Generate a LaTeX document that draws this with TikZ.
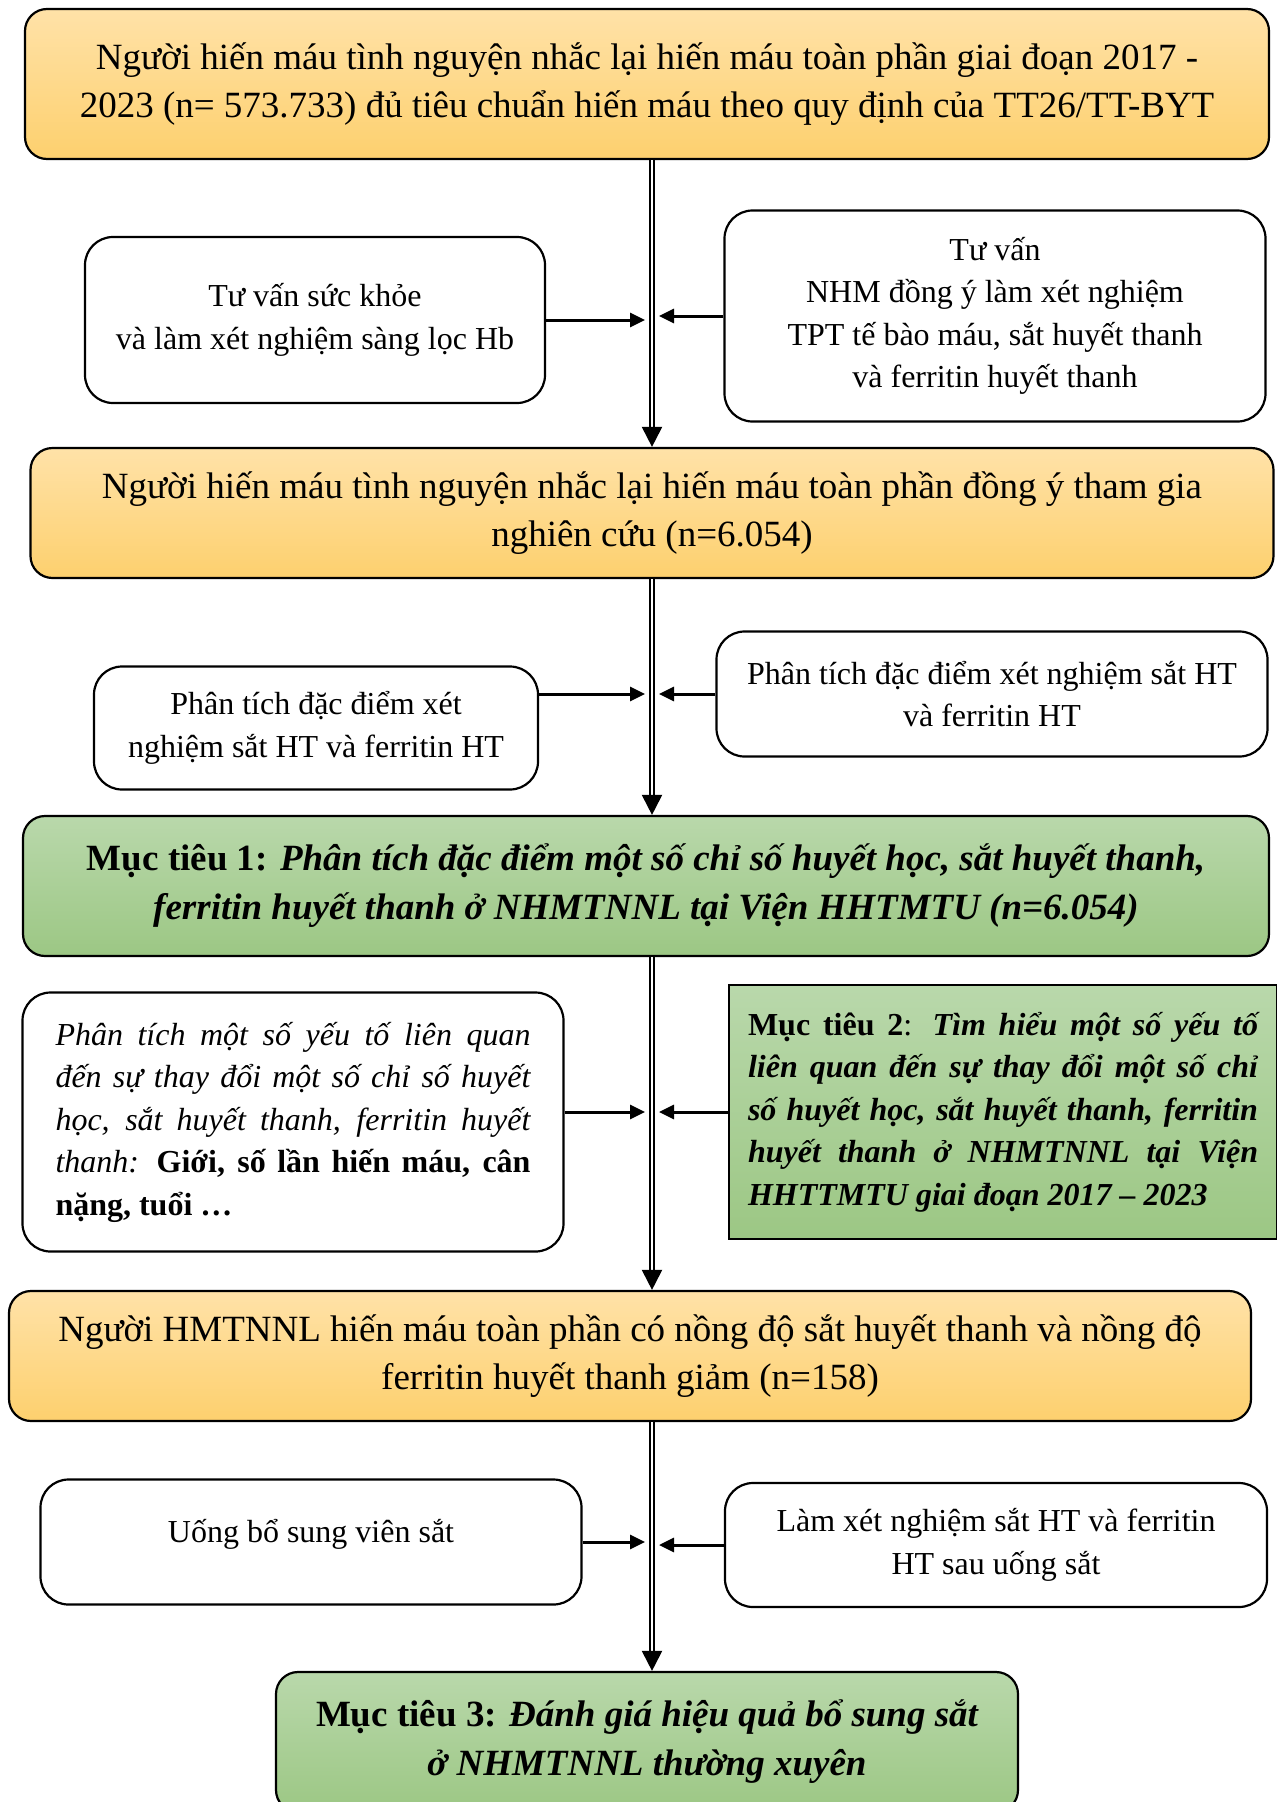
\documentclass[tikz,border=0pt]{standalone}
\usepackage{fontspec}
\setmainfont{Liberation Serif}
\usetikzlibrary{arrows.meta}
\definecolor{orangetop}{HTML}{FFE2A8}
\definecolor{orangebot}{HTML}{FDD06E}
\definecolor{greentop}{HTML}{B9D8AB}
\definecolor{greenbot}{HTML}{9CC784}

\begin{document}
\begin{tikzpicture}[x=1pt,y=-1pt,
    box/.style={draw, line width=2.2pt, align=center, inner sep=0pt},
    orangebox/.style={box, rounded corners=22pt, top color=orangetop, bottom color=orangebot,
      font=\fontsize{37}{48}\selectfont},
    greenbox/.style={box, rounded corners=22pt, top color=greentop, bottom color=greenbot,
      font=\fontsize{37}{49}\selectfont\bfseries},
    whitebox/.style={box, rounded corners=28pt, fill=white, font=\fontsize{32}{42.5}\selectfont},
    mainarrow/.style={draw, double, double distance=2.5pt, line width=2pt,
      -{Triangle[length=20pt,width=20pt]}},
    sidearrow/.style={line width=3pt, -{Triangle[length=15pt,width=14pt]}, shorten >=7pt}]
    \useasboundingbox (0,0) rectangle (1277,1802);
    \coordinate (spine) at (652,0);
    % main column
    \node[orangebox, minimum width=1244, minimum height=150] (donor) at (647,84)
      {Người hiến máu tình nguyện nhắc lại hiến máu toàn phần giai đoạn 2017 -\\
       2023 (n= 573.733) đủ tiêu chuẩn hiến máu theo quy định của TT26/TT-BYT};
    \node[orangebox, minimum width=1243, minimum height=130] (agree) at (652,513)
      {Người hiến máu tình nguyện nhắc lại hiến máu toàn phần đồng ý tham gia\\
       nghiên cứu (n=6.054)};
    \node[greenbox, minimum width=1246, minimum height=140] (goal1) at (646,886)
      {Mục tiêu 1: \itshape Phân tích đặc điểm một số chỉ số huyết học, sắt huyết thanh,\\
       \itshape ferritin huyết thanh ở NHMTNNL tại Viện HHTMTU (n=6.054)};
    \node[orangebox, minimum width=1242, minimum height=130] (low) at (630,1356)
      {Người HMTNNL hiến máu toàn phần có nồng độ sắt huyết thanh và nồng độ\\
       ferritin huyết thanh giảm (n=158)};
    \node[greenbox, minimum width=742, minimum height=140] (goal3) at (647,1742)
      {Mục tiêu 3: \itshape Đánh giá hiệu quả bổ sung sắt\\
       \itshape ở NHMTNNL thường xuyên};
    % side boxes
    \node[whitebox, minimum width=460, minimum height=166] (screen) at (315,320)
      {Tư vấn sức khỏe\\ và làm xét nghiệm sàng lọc Hb};
    \node[whitebox, minimum width=541, minimum height=211] (consult) at (995,316)
      {Tư vấn\\ NHM đồng ý làm xét nghiệm\\ TPT tế bào máu, sắt huyết thanh\\
       và ferritin huyết thanh};
    \node[whitebox, minimum width=444, minimum height=123] (ironL) at (316,728)
      {Phân tích đặc điểm xét\\ nghiệm sắt HT và ferritin HT};
    \node[whitebox, minimum width=551, minimum height=125] (ironR) at (992,694)
      {Phân tích đặc điểm xét nghiệm sắt HT\\ và ferritin HT};
    \node[whitebox, minimum width=541, minimum height=259, text width=475, align=justify]
      (factor) at (293,1122)
      {\itshape Phân tích một số yếu tố liên quan\linebreak{} đến sự thay đổi một số chỉ số
       huyết\linebreak{} học, sắt huyết thanh, ferritin huyết\linebreak{} thanh: \upshape\bfseries
       Giới, số lần hiến máu, cân\linebreak{} nặng, tuổi …\par};
    \node[box, top color=greentop, bottom color=greenbot, font=\fontsize{32}{42.5}\selectfont,
      minimum width=548, minimum height=254, text width=510, align=justify]
      (goal2) at (1003,1112)
      {\textbf{Mục tiêu 2}: \textbf{\textit{Tìm hiểu một số yếu tố liên quan đến sự thay đổi
       một số chỉ số huyết học, sắt huyết thanh, ferritin huyết thanh ở NHMTNNL tại Viện
       HHTTMTU giai đoạn 2017 – 2023}}\par};
    \node[whitebox, minimum width=541, minimum height=125] (pill) at (311,1542)
      {\raisebox{22pt}{Uống bổ sung viên sắt}};
    \node[whitebox, minimum width=542, minimum height=124] (retest) at (996,1545)
      {Làm xét nghiệm sắt HT và ferritin\\ HT sau uống sắt};
    % connectors
    \draw[mainarrow] (donor.south -| spine) -- (agree.north -| spine);
    \draw[mainarrow] (agree.south -| spine) -- (goal1.north -| spine);
    \draw[mainarrow] (goal1.south -| spine) -- (low.north -| spine);
    \draw[mainarrow] (low.south -| spine) -- (goal3.north -| spine);
    \draw[sidearrow] (screen.east) -- (screen.east -| spine);
    \draw[sidearrow] (consult.west) -- (consult.west -| spine);
    \draw[sidearrow] (ironL.east |- ironR.west) -- (ironR.west -| spine);
    \draw[sidearrow] (ironR.west) -- (ironR.west -| spine);
    \draw[sidearrow] (factor.east |- goal2.west) -- (goal2.west -| spine);
    \draw[sidearrow] (goal2.west) -- (goal2.west -| spine);
    \draw[sidearrow] (pill.east) -- (pill.east -| spine);
    \draw[sidearrow] (retest.west) -- (retest.west -| spine);
  \end{tikzpicture}
\end{document}
